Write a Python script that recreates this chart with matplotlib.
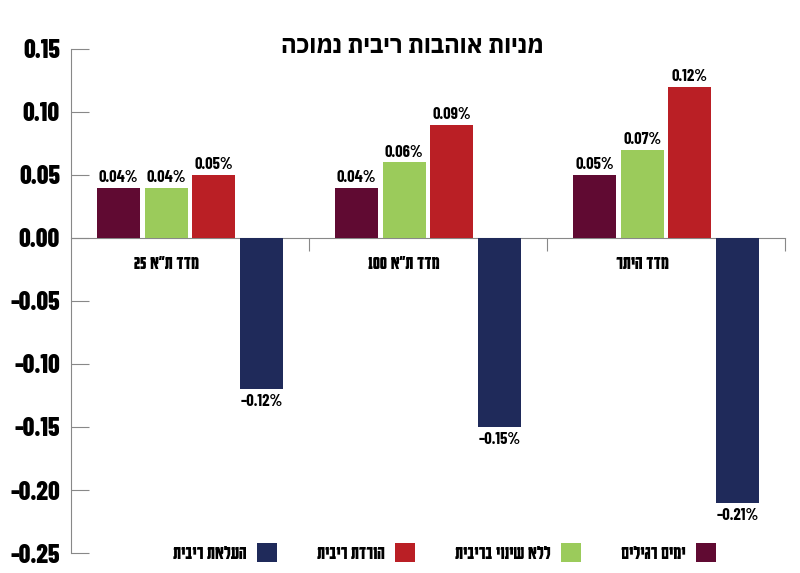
import re
import numpy as np
import matplotlib
matplotlib.use('Agg')
import matplotlib.pyplot as plt

NUM_FONT = ['Barlow Condensed', 'DejaVu Sans']
HEB_FONT = ['Karantina', 'DejaVu Sans']
TITLE_FONT = ['IBM Plex Sans Hebrew', 'DejaVu Sans']


def rtl(s):
    # matplotlib has no bidi support: reverse Hebrew, keep numbers
    r = s[::-1]
    return re.sub(r'[0-9.%]+', lambda m: m.group(0)[::-1], r)


title = 'מניות אוהבות ריבית נמוכה'
categories = ['מדד ת״א 25', 'מדד ת״א 100', 'מדד היתר']
series_names = ['ימים רגילים', 'ללא שינוי בריבית', 'הורדת ריבית', 'העלאת ריבית']
colors = ['#600a32', '#9bcb5b', '#ba1f25', '#1f2a5a']
values = [
    [0.04, 0.04, 0.05],      # ימים רגילים
    [0.04, 0.06, 0.07],      # ללא שינוי בריבית
    [0.05, 0.09, 0.12],      # הורדת ריבית
    [-0.12, -0.15, -0.21],   # העלאת ריבית
]
yticks = [0.15, 0.10, 0.05, 0.00, -0.05, -0.10, -0.15, -0.20, -0.25]

fig = plt.figure(figsize=(8, 5.73), dpi=100)
ax = fig.add_axes([0.08875, 0.0349, 0.8925, 0.8796])

x = np.arange(len(categories))
offsets = [-0.3, -0.1, 0.1, 0.3]
bars = []
for i, name in enumerate(series_names):
    b = ax.bar(x + offsets[i], values[i], width=0.18, color=colors[i],
               label=rtl(name), zorder=3)
    bars.append(b)
    for xi, v in zip(x + offsets[i], values[i]):
        if v >= 0:
            ax.text(xi, v + 0.002, f'{v:.2f}%', ha='center', va='bottom',
                    fontsize=12, fontweight='bold', family=NUM_FONT)
        else:
            ax.text(xi, v - 0.004, f'–{abs(v):.2f}%', ha='center', va='top',
                    fontsize=12, fontweight='bold', family=NUM_FONT)

for xi, cat in zip(x, categories):
    ax.text(xi - 0.1, -0.02, rtl(cat), ha='center', va='center',
            fontsize=14.5, fontweight='bold', family=HEB_FONT)

ax.set_xlim(-0.5, 2.5)
ax.set_ylim(-0.25, 0.15)
ax.set_yticks(yticks)
ax.set_yticklabels([f'{t:.2f}' for t in yticks], fontsize=18.5,
                   fontweight=800, family=NUM_FONT)
ax.set_xticks([0.5, 1.5, 2.5])
ax.set_xticklabels([])

for s in ['top', 'right']:
    ax.spines[s].set_visible(False)
ax.spines['bottom'].set_position(('data', 0))
ax.spines['left'].set_color('#888888')
ax.spines['bottom'].set_color('#888888')
ax.tick_params(axis='y', direction='in', length=13, color='#888888', pad=8)
ax.tick_params(axis='x', direction='out', length=9, color='#888888')

fig.text(0.515, 0.918, rtl(title), ha='center', va='center',
         fontsize=17, fontweight='bold', family=TITLE_FONT)

ax.legend(bars[::-1], [rtl(n) for n in series_names][::-1], ncol=4,
          markerfirst=False, frameon=False, loc='center',
          bbox_to_anchor=(0.556, 0.035), bbox_transform=fig.transFigure,
          prop={'size': 14.5, 'weight': 'bold', 'family': HEB_FONT},
          handlelength=1.0, handleheight=1.0, handletextpad=0.5,
          columnspacing=2.0)

fig.savefig('out.png', dpi=100)
